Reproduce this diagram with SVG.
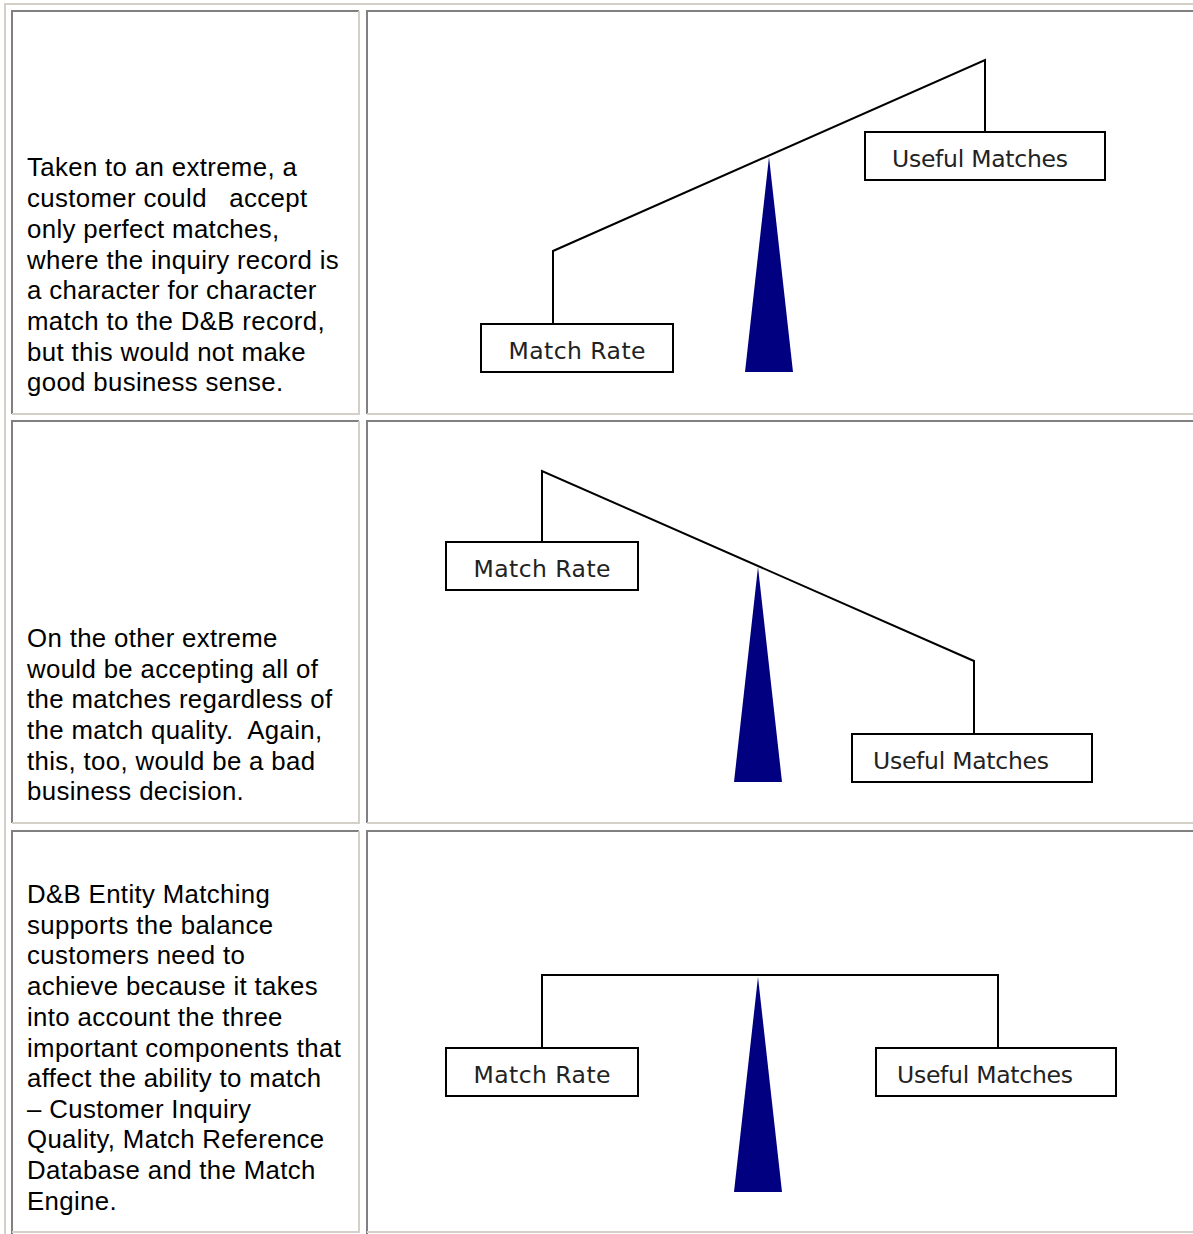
<svg xmlns="http://www.w3.org/2000/svg" width="1193" height="1234" viewBox="0 0 1193 1234">
<style>
.bg{fill:#ffffff}
.lt{stroke:#D4D0C8;stroke-width:2;fill:none}
.dk{stroke:#808080;stroke-width:2;fill:none}
.body{font-family:"Liberation Sans",Arial,sans-serif;font-size:25.8px;letter-spacing:0.35px;fill:#000;white-space:pre}
.lbl{font-family:"DejaVu Sans","Liberation Sans",sans-serif;font-size:23.5px;fill:#222;text-anchor:middle}
.box{fill:#fff;stroke:#000;stroke-width:2}
.beam{fill:none;stroke:#000;stroke-width:2}
.ful{fill:#000080}
</style>
<rect class="bg" x="0" y="0" width="1193" height="1234"/>
<g id="table">
  <path class="lt" d="M5,1234 V4 H1193"/>
  <path class="dk" d="M12,414 V11 H359"/>
  <path class="lt" d="M12,414 H359 V11"/>
  <path class="dk" d="M367,414 V11 H1193"/>
  <path class="lt" d="M367,414 H1193"/>
  <path class="dk" d="M12,823 V421 H359"/>
  <path class="lt" d="M12,823 H359 V421"/>
  <path class="dk" d="M367,823 V421 H1193"/>
  <path class="lt" d="M367,823 H1193"/>
  <path class="dk" d="M12,1234 V831 H359"/>
  <path class="lt" d="M12,1232 H359 V831"/>
  <path class="dk" d="M367,1234 V831 H1193"/>
  <path class="lt" d="M367,1232 H1193"/>
</g>
<g id="text1">
  <text class="body" x="27" y="176">Taken to an extreme, a</text>
  <text class="body" x="27" y="207" xml:space="preserve">customer could   accept</text>
  <text class="body" x="27" y="238">only perfect matches,</text>
  <text class="body" x="27" y="269">where the inquiry record is</text>
  <text class="body" x="27" y="299">a character for character</text>
  <text class="body" x="27" y="330">match to the D&amp;B record,</text>
  <text class="body" x="27" y="361">but this would not make</text>
  <text class="body" x="27" y="391">good business sense.</text>
</g>
<g id="text2">
  <text class="body" x="27" y="647">On the other extreme</text>
  <text class="body" x="27" y="678">would be accepting all of</text>
  <text class="body" x="27" y="708">the matches regardless of</text>
  <text class="body" x="27" y="739" xml:space="preserve">the match quality.  Again,</text>
  <text class="body" x="27" y="770">this, too, would be a bad</text>
  <text class="body" x="27" y="800">business decision.</text>
</g>
<g id="text3">
  <text class="body" x="27" y="903">D&amp;B Entity Matching</text>
  <text class="body" x="27" y="934">supports the balance</text>
  <text class="body" x="27" y="964">customers need to</text>
  <text class="body" x="27" y="995">achieve because it takes</text>
  <text class="body" x="27" y="1026">into account the three</text>
  <text class="body" x="27" y="1057">important components that</text>
  <text class="body" x="27" y="1087">affect the ability to match</text>
  <text class="body" x="27" y="1118">– Customer Inquiry</text>
  <text class="body" x="27" y="1148">Quality, Match Reference</text>
  <text class="body" x="27" y="1179">Database and the Match</text>
  <text class="body" x="27" y="1210">Engine.</text>
</g>
<g id="connectors">
  <path class="beam" d="M553,324 V251 L985,60 V132"/>
  <path class="beam" d="M542,542 V471 L974,661 V734"/>
  <path class="beam" d="M542,1048 V975 H998 V1048"/>
</g>
<g id="fulcrum1"><polygon class="ful" points="769,157 745,372 793,372"/></g>
<g id="fulcrum2"><polygon class="ful" points="758,567 734,782 782,782"/></g>
<g id="fulcrum3"><polygon class="ful" points="758,977 734,1192 782,1192"/></g>
<g id="matchrate1"><rect class="box" x="481" y="324" width="192" height="48"/><text class="lbl" x="577" y="359" textLength="137">Match Rate</text></g>
<g id="useful1"><rect class="box" x="865" y="132" width="240" height="48"/><text class="lbl" x="980" y="167" textLength="176">Useful Matches</text></g>
<g id="matchrate2"><rect class="box" x="446" y="542" width="192" height="48"/><text class="lbl" x="542" y="577" textLength="137">Match Rate</text></g>
<g id="useful2"><rect class="box" x="852" y="734" width="240" height="48"/><text class="lbl" x="961" y="769" textLength="176">Useful Matches</text></g>
<g id="matchrate3"><rect class="box" x="446" y="1048" width="192" height="48"/><text class="lbl" x="542" y="1083" textLength="137">Match Rate</text></g>
<g id="useful3"><rect class="box" x="876" y="1048" width="240" height="48"/><text class="lbl" x="985" y="1083" textLength="176">Useful Matches</text></g>
</svg>
